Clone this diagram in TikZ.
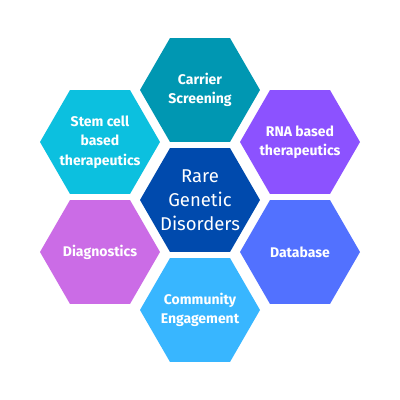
\documentclass[tikz,border=0pt]{standalone}
\usepackage{fontspec}
\setmainfont{Fira Sans}
\usetikzlibrary{shapes.geometric}
\definecolor{cteal}{HTML}{0097B2}
\definecolor{cdark}{HTML}{004AAD}
\definecolor{ccyan}{HTML}{0CC0DF}
\definecolor{cpurple}{HTML}{8C52FF}
\definecolor{corchid}{HTML}{CB6CE6}
\definecolor{cblue}{HTML}{5271FF}
\definecolor{clight}{HTML}{38B6FF}
\tikzset{
  hexbox/.style={regular polygon, regular polygon sides=6, minimum size=120pt,
    inner sep=0pt, outer sep=0pt, draw=none},
  hextext/.style={inner sep=0pt, text=white, align=center,
    font=\fontsize{14}{19.5}\selectfont\bfseries},
  centertext/.style={hextext, font=\fontsize{18.5}{24}\selectfont\mdseries}
}
\begin{document}
\begin{tikzpicture}[x=1pt,y=-1pt]
\useasboundingbox[fill=white] (0,0) rectangle (400,400);
\node[hexbox, fill=cdark] (center) at (200,200) {};
\node[hexbox, fill=cteal] (top) at (200,90) {};
\node[hexbox, fill=ccyan] (ul) at (100,142) {};
\node[hexbox, fill=cpurple] (ur) at (300,142) {};
\node[hexbox, fill=corchid] (ll) at (100,252) {};
\node[hexbox, fill=cblue] (lr) at (300,252) {};
\node[hexbox, fill=clight] (bot) at (200,310) {};
\node[centertext] (centerlbl) at (center) {Rare\\Genetic\\Disorders};
\node[hextext] (toplbl) at (top) {Carrier\\Screening};
\node[hextext] (ullbl) at (ul) {Stem cell\\based\\therapeutics};
\node[hextext] (urlbl) at (ur) {RNA based\\therapeutics};
\node[hextext] (lllbl) at (ll) {Diagnostics};
\node[hextext] (lrlbl) at (lr) {Database};
\node[hextext] (botlbl) at (bot) {Community\\Engagement};
\end{tikzpicture}
\end{document}
